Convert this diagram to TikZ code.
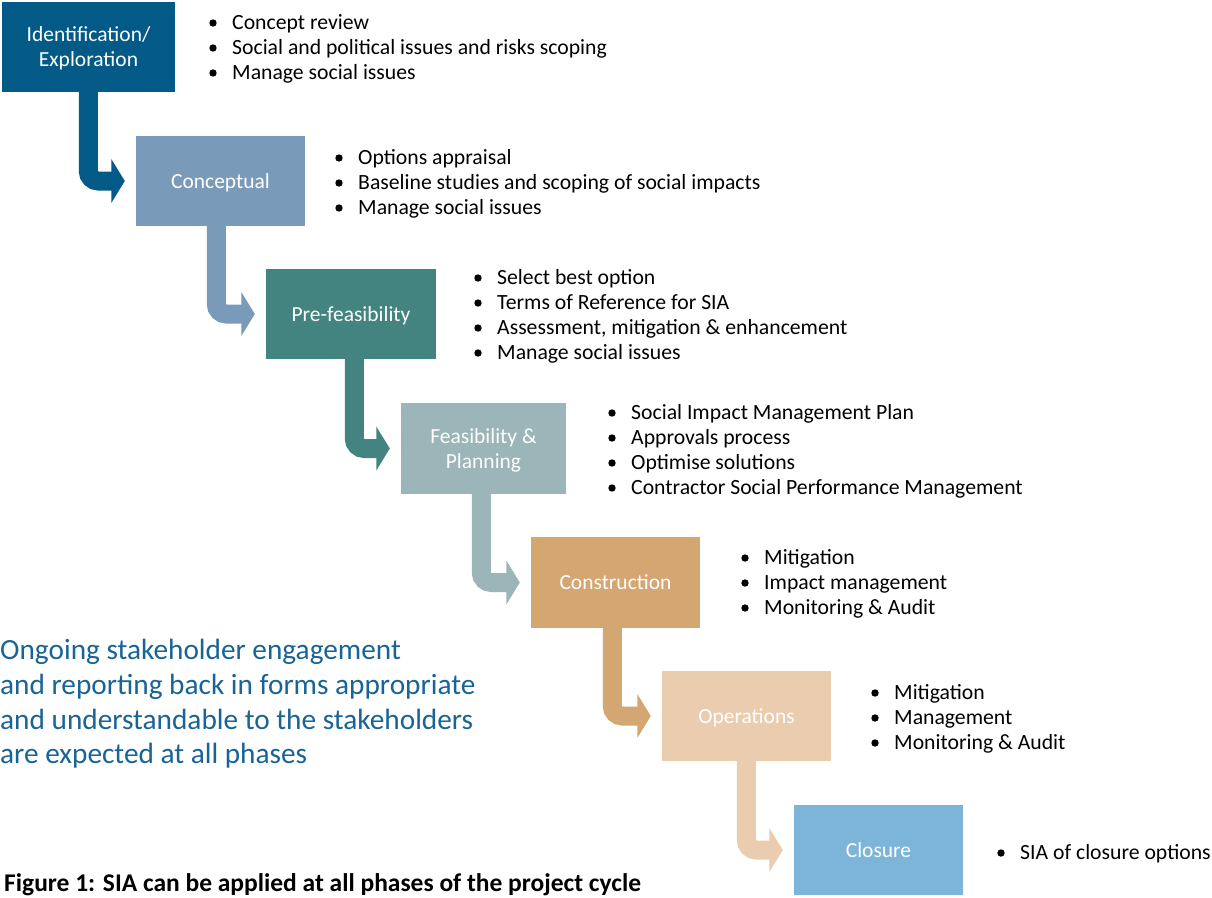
\documentclass[tikz,border=0pt]{standalone}
\usepackage{fontspec}
\setmainfont{Carlito}
\usetikzlibrary{calc}
\definecolor{c1}{RGB}{3,90,135}
\definecolor{c2}{RGB}{122,154,185}
\definecolor{c3}{RGB}{67,131,128}
\definecolor{c4}{RGB}{155,181,184}
\definecolor{c5}{RGB}{212,166,114}
\definecolor{c6}{RGB}{234,205,174}
\definecolor{c7}{RGB}{125,181,217}
\definecolor{bluetxt}{RGB}{24,100,150}
\newcommand\phasearrow[4]{%
  \draw[line width=19pt, #4, rounded corners=10pt] ($(#1.south west)+(#3,0)$) |- ($(#2.west)+(-24,0)$);
  \fill[#4] ($(#2.west)+(-24.5,-22)$) -- ($(#2.west)+(-11,0)$) -- ($(#2.west)+(-24.5,22)$) -- cycle;}
\newcommand\itm[4]{%
  \node[item] (#1) at (#2,#3) {#4};
  \fill ($(#1.base west)+(-19,-6)$) circle (3.7);}
\begin{document}
\begin{tikzpicture}[x=1pt,y=-1pt,
  phase/.style={rectangle, inner sep=0, minimum height=90pt, text=white, align=center,
     text depth=0pt, font=\fontsize{21.5}{25}\selectfont},
  item/.style={anchor=base west, inner sep=0, font=\fontsize{21.7}{25}\selectfont},
  para/.style={anchor=base west, inner sep=0, text=bluetxt, font=\fontsize{29.3}{35}\selectfont}]
\useasboundingbox[fill=white] (0,0) rectangle (1212,897);

\node[phase, fill=c1, minimum width=173pt] (b1) at (88.5,47) {Identification/\\Exploration};
\node[phase, fill=c2, minimum width=169pt] (b2) at (220.5,181) {Conceptual};
\node[phase, fill=c3, minimum width=170pt] (b3) at (351,314) {Pre-feasibility};
\node[phase, fill=c4, minimum width=165pt, minimum height=91pt] (b4) at (483.5,448.5) {Feasibility \&\\Planning};
\node[phase, fill=c5, minimum width=169pt, minimum height=91pt] (b5) at (615.5,582.5) {Construction};
\node[phase, fill=c6, minimum width=169pt] (b6) at (746.5,716) {Operations};
\node[phase, fill=c7, minimum width=169pt] (b7) at (878.5,850) {Closure};

\phasearrow{b1}{b2}{86.5}{c1}
\phasearrow{b2}{b3}{80.5}{c2}
\phasearrow{b3}{b4}{88.5}{c3}
\phasearrow{b4}{b5}{80.5}{c4}
\phasearrow{b5}{b6}{81.5}{c5}
\phasearrow{b6}{b7}{84.5}{c6}

\itm{l1a}{232}{29}{Concept review}
\itm{l1b}{232}{54}{Social and political issues and risks scoping}
\itm{l1c}{232}{79}{Manage social issues}

\itm{l2a}{358}{164}{Options appraisal}
\itm{l2b}{358}{189}{Baseline studies and scoping of social impacts}
\itm{l2c}{358}{214}{Manage social issues}

\itm{l3a}{497}{284}{Select best option}
\itm{l3b}{497}{309}{Terms of Reference for SIA}
\itm{l3c}{497}{334}{Assessment, mitigation \& enhancement}
\itm{l3d}{497}{359}{Manage social issues}

\itm{l4a}{631}{419}{Social Impact Management Plan}
\itm{l4b}{631}{444}{Approvals process}
\itm{l4c}{631}{469}{Optimise solutions}
\itm{l4d}{631}{494}{Contractor Social Performance Management}

\itm{l5a}{764}{564}{Mitigation}
\itm{l5b}{764}{589}{Impact management}
\itm{l5c}{764}{614}{Monitoring \& Audit}

\itm{l6a}{894}{699}{Mitigation}
\itm{l6b}{894}{724}{Management}
\itm{l6c}{894}{749}{Monitoring \& Audit}

\itm{l7a}{1020}{859}{SIA of closure options}

\node[para] (p1) at (0,659) {Ongoing stakeholder engagement};
\node[para] (p2) at (0,694) {and reporting back in forms appropriate};
\node[para] (p3) at (0,729) {and understandable to the stakeholders};
\node[para] (p4) at (0,763) {are expected at all phases};

\node[anchor=base west, inner sep=0, font=\fontsize{25.5}{28}\selectfont\bfseries] (cap) at (4,891)
  {Figure 1: SIA can be applied at all phases of the project cycle};
\end{tikzpicture}
\end{document}
